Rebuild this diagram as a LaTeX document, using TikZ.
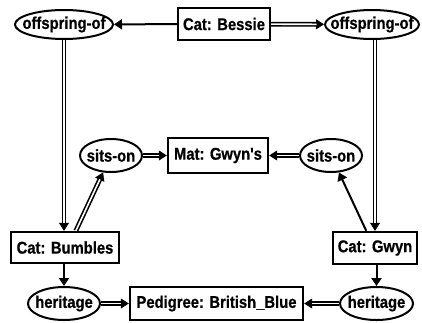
\documentclass[tikz,border=0pt]{standalone}
\usepackage{fontspec}
\newfontfamily\labfont[FakeStretch=0.87,FakeBold=0.6]{Liberation Sans}
\usetikzlibrary{arrows.meta,shapes.geometric}
\tikzset{
  lab/.style={font=\labfont\bfseries\fontsize{17}{19}\selectfont, inner sep=0pt},
  concept/.style={lab, draw, rectangle, line width=2.4pt},
  relation/.style={lab, draw, ellipse, line width=2pt},
  single/.style={line width=2pt, -{Triangle[length=8pt,width=10pt]}},
  tiponly/.style={draw=white, line width=0.8pt, -{Triangle[length=8pt,width=10pt,color=black]}},
  dblline/.style={double, line width=1.6pt, double distance=1.6pt, shorten >=7.5pt},
}
\newcommand\dblarrow[2]{\draw[tiponly] (#1) -- (#2); \draw[dblline] (#1) -- (#2);}
\begin{document}
\begin{tikzpicture}[x=1pt,y=-1pt]
\fill[white] (0,0) rectangle (422,322);
\useasboundingbox (0,0) rectangle (422,322);
\node[concept, minimum width=92pt, minimum height=32pt] (bessie) at (224,24) {Cat: Bessie};
\node[relation, minimum width=98pt, minimum height=29pt] (offL) at (64,24.5) {\makebox[0pt]{offspring-of}};
\node[relation, minimum width=94pt, minimum height=29pt] (offR) at (372,24.5) {\makebox[0pt]{offspring-of}};
\node[relation, minimum width=62pt, minimum height=33pt] (sitsL) at (111,155.5) {\makebox[0pt]{sits-on}};
\node[concept, minimum width=100pt, minimum height=35pt] (mat) at (218,155.5) {Mat: Gwyn's};
\node[relation, minimum width=62pt, minimum height=33pt] (sitsR) at (331,155.5) {\makebox[0pt]{sits-on}};
\node[concept, minimum width=108pt, minimum height=31pt] (bumbles) at (65,247.5) {Cat: Bumbles};
\node[concept, minimum width=84pt, minimum height=32pt] (gwyn) at (375,248) {Cat: Gwyn};
\node[relation, minimum width=72pt, minimum height=33pt] (herL) at (64,303.5) {\makebox[0pt]{heritage}};
\node[concept, minimum width=173pt, minimum height=33pt] (ped) at (216.5,303.5) {Pedigree: British\_Blue};
\node[relation, minimum width=73pt, minimum height=33pt] (herR) at (376.5,303.5) {\makebox[0pt]{heritage}};

\draw[single] (bessie) -- (offL);
\dblarrow{bessie}{offR}
\dblarrow{offL.south}{offL.south |- bumbles.north}
\dblarrow{gwyn.north |- offR.south}{gwyn.north}
\dblarrow{bumbles.57}{sitsL}
\draw[single] (gwyn.117) -- (sitsR);
\dblarrow{sitsL}{mat}
\dblarrow{sitsR}{mat}
\draw[single] (herL.north |- bumbles.south) -- (herL.north);
\draw[single] (herR.north |- gwyn.south) -- (herR.north);
\dblarrow{herL}{ped}
\dblarrow{herR}{ped}
\end{tikzpicture}
\end{document}
